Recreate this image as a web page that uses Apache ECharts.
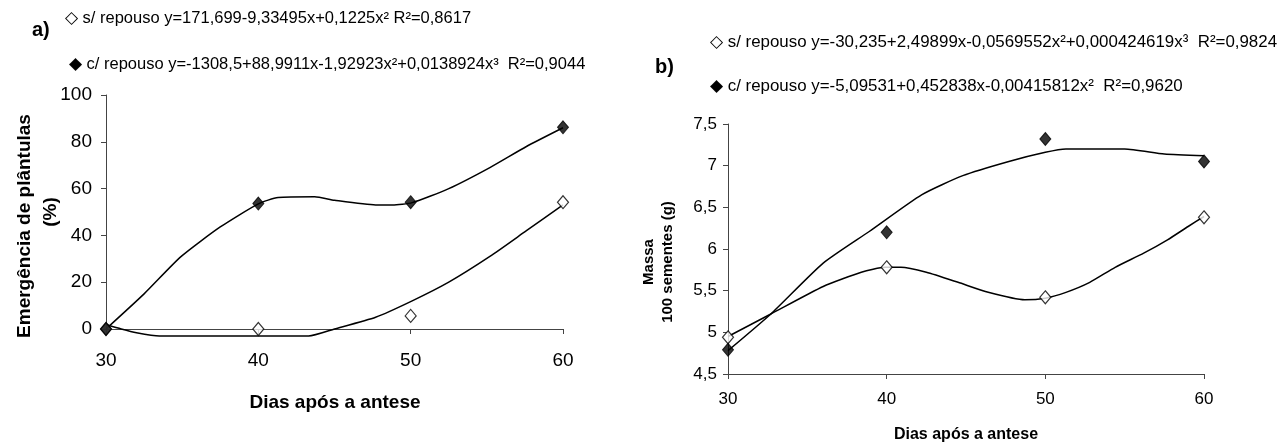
<!DOCTYPE html>
<html>
<head>
<meta charset="utf-8">
<script src="https://cdn.jsdelivr.net/npm/echarts@6/dist/echarts.min.js"></script>
<style>
html,body{margin:0;padding:0;background:#fff;}
#c{width:1282px;height:446px;}
</style>
</head>
<body>
<div id="c"></div>
<script>
// ---------- DATA ----------
// Panel a) Emergência de plântulas (%)
var xTicks = [30, 40, 50, 60];
var daysA = [30, 40, 50, 60];
var semRepousoA = [0, 0, 5.6, 54.2];
var comRepousoA = [0, 53.6, 54.2, 86.2];
// fitted curves as drawn in panel a)
var curveSemA_x = [30, 31, 32, 33.5, 36, 40, 43.3, 45, 47.7, 50.1, 52.5, 55.2, 57.6, 60];
var curveSemA_y = [1.9, 0, -1.6, -3, -3, -3, -3, 0, 5, 12, 20, 31, 42, 53];
var curveComA_x = [30, 32.5, 34.9, 37.5, 40, 41.3, 43.7, 45, 47.7, 48.8, 50.1, 52.5, 55.2, 57.6, 60];
var curveComA_y = [0, 15, 30.8, 43.6, 53.5, 56.2, 56.5, 55, 53, 53, 54, 60, 69, 78, 86];

// Panel b) Massa 100 sementes (g)
var daysB = [30, 40, 50, 60];
var semRepousoB = [4.94, 5.78, 5.42, 6.38];
var comRepousoB = [4.79, 6.20, 7.32, 7.05];
var curveSemB_x = [30, 32.7, 36, 38.4, 39.9, 40.9, 42.5, 44.5, 46.4, 48.7, 50, 51.3, 52.8, 54.4, 56.2, 57.7, 59, 60];
var curveSemB_y = [4.95, 5.22, 5.55, 5.72, 5.78, 5.78, 5.72, 5.60, 5.48, 5.39, 5.41, 5.48, 5.60, 5.78, 5.95, 6.11, 6.27, 6.39];
var curveComB_x = [30, 32.7, 36, 38.9, 42.2, 44.8, 47.7, 50, 51.3, 55, 57.5, 60];
var curveComB_y = [4.78, 5.22, 5.83, 6.21, 6.65, 6.88, 7.05, 7.16, 7.20, 7.20, 7.14, 7.12];

// Texts
var headerA1 = '\u25C7 s/ repouso y=171,699-9,33495x+0,1225x\u00B2 R\u00B2=0,8617';
var headerA2 = '\u25C6 c/ repouso y=-1308,5+88,9911x-1,92923x\u00B2+0,0138924x\u00B3  R\u00B2=0,9044';
var headerB1 = '\u25C7 s/ repouso y=-30,235+2,49899x-0,0569552x\u00B2+0,000424619x\u00B3  R\u00B2=0,9824';
var headerB2 = '\u25C6 c/ repouso y=-5,09531+0,452838x-0,00415812x\u00B2  R\u00B2=0,9620';
var xTitle = 'Dias após a antese';
var yTitleA1 = 'Emergência de plântulas';
var yTitleA2 = '(%)';
var yTitleB1 = 'Massa';
var yTitleB2 = '100 sementes (g)';

// ---------- CHART ----------
function pairs(xs, ys){ return xs.map(function(x,i){ return [x, ys[i]]; }); }
var FONT = "'Liberation Sans', Arial, sans-serif";
var axisColor = '#444';

var chart = echarts.init(document.getElementById('c'), null, {renderer:'canvas'});

function xAxisDef(gi, fs, margin){
  return {
    type:'value', gridIndex:gi, min:30, max:60, interval:10,
    axisLine:{show:true, onZero:false, lineStyle:{color:axisColor, width:1}},
    axisTick:{show:true, length:5, lineStyle:{color:axisColor}},
    axisLabel:{fontFamily:FONT, fontSize:fs, color:'#000', margin:margin},
    splitLine:{show:false}
  };
}
function yAxisDef(gi, min, max, interval, fs, margin, fmt){
  return {
    type:'value', gridIndex:gi, min:min, max:max, interval:interval,
    axisLine:{show:true, onZero:false, lineStyle:{color:axisColor, width:1}},
    axisTick:{show:true, length:5, lineStyle:{color:axisColor}},
    axisLabel:{fontFamily:FONT, fontSize:fs, color:'#000', margin:margin, formatter:fmt},
    splitLine:{show:false}
  };
}
var commaFmt = function(v){ return String(v).replace('.', ','); };

var openDiamond = {color:'#fff', borderColor:'#000', borderWidth:1.2};
var fullDiamond = {color:'#000', borderColor:'#000', borderWidth:1};
var lineStyle = {color:'#000', width:1.5};

var option = {
  animation:false,
  backgroundColor:'#fff',
  grid:[
    {left:106, top:95, width:457, height:234},
    {left:728, top:124, width:476, height:250}
  ],
  xAxis:[ xAxisDef(0, 19, 22), xAxisDef(1, 17, 17) ],
  yAxis:[ yAxisDef(0, 0, 100, 20, 19, 14), yAxisDef(1, 4.5, 7.5, 0.5, 17, 11, commaFmt) ],
  series:[
    {type:'line', xAxisIndex:0, yAxisIndex:0, data:pairs(curveSemA_x, curveSemA_y), showSymbol:false, smooth:0.2, clip:false, lineStyle:lineStyle, z:2},
    {type:'line', xAxisIndex:0, yAxisIndex:0, data:pairs(curveComA_x, curveComA_y), showSymbol:false, smooth:0.2, lineStyle:lineStyle, z:2},
    {type:'scatter', xAxisIndex:0, yAxisIndex:0, data:pairs(daysA, semRepousoA), symbol:'diamond', symbolSize:[11,13], itemStyle:openDiamond, clip:false, z:5},
    {type:'scatter', xAxisIndex:0, yAxisIndex:0, data:pairs(daysA, comRepousoA), symbol:'diamond', symbolSize:[11,13], itemStyle:fullDiamond, clip:false, z:5},
    {type:'line', xAxisIndex:1, yAxisIndex:1, data:pairs(curveSemB_x, curveSemB_y), showSymbol:false, smooth:0.2, lineStyle:lineStyle, z:2},
    {type:'line', xAxisIndex:1, yAxisIndex:1, data:pairs(curveComB_x, curveComB_y), showSymbol:false, smooth:0.2, lineStyle:lineStyle, z:2},
    {type:'scatter', xAxisIndex:1, yAxisIndex:1, data:pairs(daysB, semRepousoB), symbol:'diamond', symbolSize:[11,13], itemStyle:openDiamond, clip:false, z:5},
    {type:'scatter', xAxisIndex:1, yAxisIndex:1, data:pairs(daysB, comRepousoB), symbol:'diamond', symbolSize:[11,13], itemStyle:fullDiamond, clip:false, z:5}
  ],
  graphic:[
    {type:'text', left:32, top:20, style:{text:'a)', font:'bold 20px '+FONT, fill:'#000'}},
    {type:'text', left:65, top:10, style:{text:headerA1, font:'16.5px '+FONT, fill:'#000'}},
    {type:'text', left:69, top:56, style:{text:headerA2, font:'16.5px '+FONT, fill:'#000'}},
    {type:'text', left:655, top:57, style:{text:'b)', font:'bold 20px '+FONT, fill:'#000'}},
    {type:'text', left:710, top:34, style:{text:headerB1, font:'16.9px '+FONT, fill:'#000'}},
    {type:'text', left:710, top:78, style:{text:headerB2, font:'16.9px '+FONT, fill:'#000'}},
    {type:'text', x:335, y:403, style:{text:xTitle, font:'bold 19px '+FONT, fill:'#000', textAlign:'center', textVerticalAlign:'middle'}},
    {type:'text', x:966, y:435, style:{text:xTitle, font:'bold 16px '+FONT, fill:'#000', textAlign:'center', textVerticalAlign:'middle'}},
    {type:'text', x:25, y:226, rotation:Math.PI/2, style:{text:yTitleA1, font:'bold 19px '+FONT, fill:'#000', textAlign:'center', textVerticalAlign:'middle'}},
    {type:'text', x:51, y:212, rotation:Math.PI/2, style:{text:yTitleA2, font:'bold 19px '+FONT, fill:'#000', textAlign:'center', textVerticalAlign:'middle'}},
    {type:'text', x:649, y:262, rotation:Math.PI/2, style:{text:yTitleB1, font:'bold 15px '+FONT, fill:'#000', textAlign:'center', textVerticalAlign:'middle'}},
    {type:'text', x:668, y:262, rotation:Math.PI/2, style:{text:yTitleB2, font:'bold 15px '+FONT, fill:'#000', textAlign:'center', textVerticalAlign:'middle'}}
  ]
};
chart.setOption(option);
</script>
</body>
</html>
